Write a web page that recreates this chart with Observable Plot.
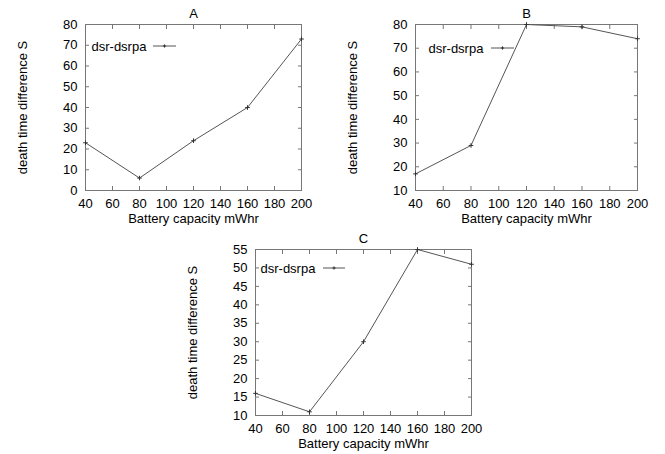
<!DOCTYPE html>
<html>
<head>
<meta charset="utf-8">
<script src="https://cdn.jsdelivr.net/npm/d3@7"></script>
<script src="https://cdn.jsdelivr.net/npm/@observablehq/plot@0.6"></script>
<style>
  html, body { margin: 0; padding: 0; background: #fff; }
  #wrap { position: relative; width: 665px; height: 454px; overflow: hidden; }
  .panel { position: absolute; }
  svg { font-family: "Liberation Sans", Arial, sans-serif; }
</style>
</head>
<body>
<div id="wrap"></div>
<script>
// ---- data ----
const capacity = [40, 80, 120, 160, 200];
const diffA = [23, 6, 24, 40, 73];
const diffB = [17, 29, 80, 79, 74];
const diffC = [16, 11, 30, 55, 51];
const xTicks = [40, 60, 80, 100, 120, 140, 160, 180, 200];
const yTicksA = [0, 10, 20, 30, 40, 50, 60, 70, 80];
const yTicksB = [10, 20, 30, 40, 50, 60, 70, 80];
const yTicksC = [10, 15, 20, 25, 30, 35, 40, 45, 50, 55];
const seriesName = "dsr-dsrpa";
const xLabel = "Battery capacity mWhr";
const yLabel = "death time difference S";

const wrap = document.getElementById("wrap");

function panel({title, values, yTicks, left, top, width, height, mr, legend}) {
  const rows = capacity.map((c, i) => ({c, v: values[i]}));
  const yDom = [yTicks[0], yTicks[yTicks.length - 1]];
  const fs = 13;
  const chart = Plot.plot({
    width, height,
    marginLeft: 85, marginRight: mr, marginTop: 24, marginBottom: height - 190,
    style: {fontFamily: "Liberation Sans, Arial, sans-serif", fontSize: fs + "px", color: "#000", background: "#fff", overflow: "visible"},
    x: {domain: [40, 200]},
    y: {domain: yDom},
    marks: [
      Plot.frame({stroke: "#777"}),
      Plot.axisX(xTicks, {anchor: "bottom", tickSize: -4, tickPadding: 12, stroke: "#777", fill: "#000", label: null, fontSize: fs}),
      Plot.axisX(xTicks, {anchor: "top", tickSize: -4, stroke: "#777", tickFormat: () => "", label: null}),
      Plot.axisY(yTicks, {anchor: "left", tickSize: -4, tickPadding: 12, stroke: "#777", fill: "#000", label: null, fontSize: fs}),
      Plot.axisY(yTicks, {anchor: "right", tickSize: -4, stroke: "#777", tickFormat: () => "", label: null}),
      Plot.line(rows, {x: "c", y: "v", stroke: "#555", strokeWidth: 1}),
      Plot.dot(rows, {x: "c", y: "v", symbol: "plus", r: 1.6, stroke: "#333", strokeWidth: 1}),
      Plot.text([title], {frameAnchor: "top", dy: -11, lineAnchor: "middle", textAnchor: "middle", fontSize: fs, fill: "#000"}),
      Plot.text([xLabel], {frameAnchor: "bottom", dy: 28, lineAnchor: "middle", textAnchor: "middle", fontSize: fs, fill: "#000"}),
      Plot.text([yLabel], {frameAnchor: "left", dx: -63, rotate: -90, lineAnchor: "middle", textAnchor: "middle", fontSize: fs, fill: "#000"}),
      Plot.text([seriesName], {frameAnchor: "top-left", dx: legend.tx, dy: legend.ty, textAnchor: "start", lineAnchor: "middle", fontSize: fs, fill: "#000"})
    ]
  });
  // legend sample line with marker
  const svg = d3.select(chart);
  const y0 = 24 + legend.ty;
  const x0 = 85 + legend.lx0, x1 = 85 + legend.lx1, xm = (x0 + x1) / 2;
  svg.append("line").attr("x1", x0).attr("x2", x1).attr("y1", y0).attr("y2", y0)
    .attr("stroke", "#555").attr("stroke-width", 1);
  svg.append("path").attr("d", `M${xm - 1.6},${y0}H${xm + 1.6}M${xm},${y0 - 1.6}V${y0 + 1.6}`)
    .attr("stroke", "#333").attr("stroke-width", 1);
  const div = document.createElement("div");
  div.className = "panel";
  div.style.left = left + "px";
  div.style.top = top + "px";
  div.appendChild(chart);
  wrap.appendChild(div);
}

panel({title: "A", values: diffA, yTicks: yTicksA, left: 0, top: 0, width: 330, height: 230, mr: 29,
  legend: {tx: 6, ty: 22, lx0: 68, lx1: 91}});
panel({title: "B", values: diffB, yTicks: yTicksB, left: 330, top: 0, width: 335, height: 230, mr: 28,
  legend: {tx: 13, ty: 24, lx0: 76, lx1: 99}});
panel({title: "C", values: diffC, yTicks: yTicksC, left: 170, top: 225, width: 330, height: 229, mr: 29,
  legend: {tx: 5, ty: 19, lx0: 68, lx1: 90}});
</script>
</body>
</html>
